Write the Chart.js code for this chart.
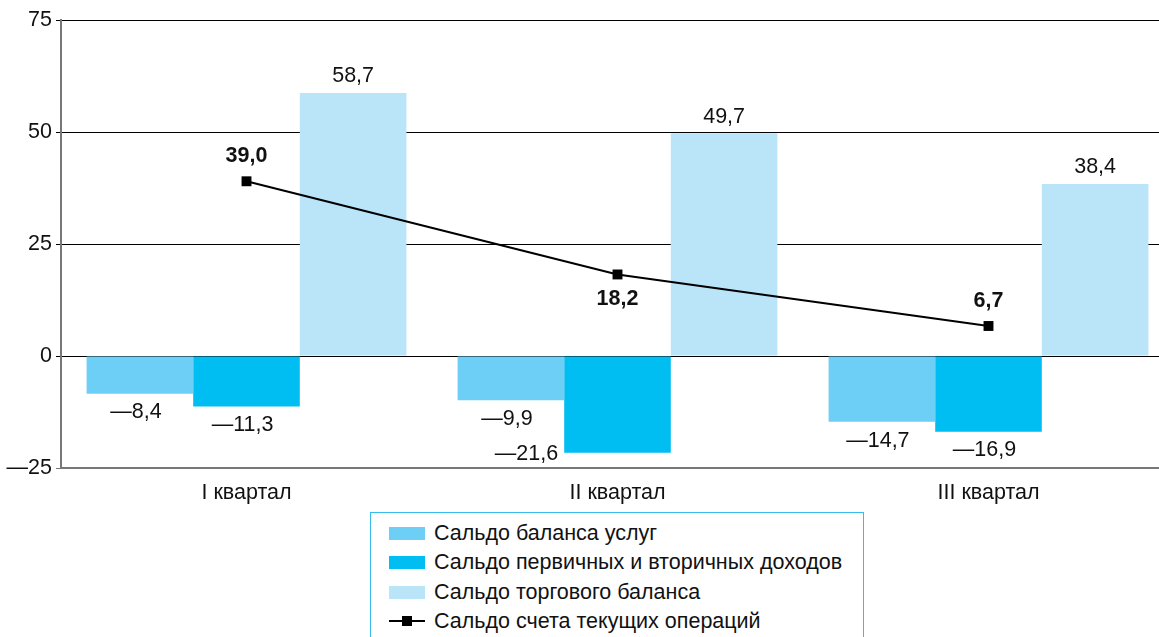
<!DOCTYPE html>
<html>
<head>
<meta charset="utf-8">
<script src="https://cdn.jsdelivr.net/npm/chart.js@4/dist/chart.umd.min.js"></script>
<style>
  html, body { margin: 0; padding: 0; background: #fff; overflow: hidden; }
  body { width: 1159px; height: 637px; position: relative; font-family: "Liberation Sans", Arial, sans-serif; }
  #wrap { position: absolute; left: 0; top: 0; width: 1181px; height: 510px; }
  #legend { position: absolute; left: 370px; top: 512px; width: 494px; height: 140px; border: 1px solid #35bdee; box-sizing: border-box; padding-top: 6px; }
  .item { height: 29.3px; display: flex; align-items: center; font-size: 21.5px; color: #111; }
  .sw { width: 36px; height: 13px; margin-left: 18px; margin-right: 9px; position: relative; flex: none; }
  .sw.line::before { content: ""; position: absolute; left: 0; right: 0; top: 5px; height: 2px; background: #000; }
  .sw.line::after { content: ""; position: absolute; left: 13px; top: 1px; width: 10px; height: 10px; background: #000; }
</style>
</head>
<body>
<div id="wrap"><canvas id="chart"></canvas></div>
<div id="legend"></div>
<script>
const quarters = ['I квартал', 'II квартал', 'III квартал'];
const services = [-8.4, -9.9, -14.7];
const incomes = [-11.3, -21.6, -16.9];
const trade = [58.7, 49.7, 38.4];
const currentAccount = [39.0, 18.2, 6.7];
const seriesNames = ['Сальдо баланса услуг', 'Сальдо первичных и вторичных доходов', 'Сальдо торгового баланса', 'Сальдо счета текущих операций'];
const seriesColors = ['#6dcff6', '#00bdf2', '#bae4f8', '#000000'];
const yTicks = [-25, 0, 25, 50, 75];

const FONT = '"Liberation Sans", Arial, sans-serif';
const FSIZE = 21.5;

function fmt(v) {
    let s = Math.abs(v).toFixed(1).replace('.', ',');
    return v < 0 ? '\u2014' + s : s;
}

// value labels for bars and the line
const valueLabels = {
    id: 'valueLabels',
    afterDatasetsDraw(chart, args, opts) {
        const ctx = chart.ctx;
        const area = chart.chartArea;
        ctx.save();
        chart.data.datasets.forEach((ds, i) => {
            const meta = chart.getDatasetMeta(i);
            meta.data.forEach((el, j) => {
                const v = ds.data[j];
                const txt = fmt(v);
                ctx.fillStyle = '#111';
                if (ds.type === 'line') {
                    ctx.font = 'bold ' + FSIZE + 'px ' + FONT;
                    ctx.textAlign = 'center';
                    if (opts.lineBelow.includes(j)) {
                        ctx.textBaseline = 'top';
                        ctx.fillText(txt, el.x, el.y + 14);
                    } else {
                        ctx.textBaseline = 'bottom';
                        ctx.fillText(txt, el.x, el.y - 14);
                    }
                    return;
                }
                ctx.font = FSIZE + 'px ' + FONT;
                if (v >= 0) {
                    ctx.textAlign = 'center';
                    ctx.textBaseline = 'bottom';
                    ctx.fillText(txt, el.x, el.y - 6);
                } else if (el.y + 30 > area.bottom) {
                    ctx.textAlign = 'right';
                    ctx.textBaseline = 'middle';
                    ctx.fillText(txt, el.x - el.width / 2 - 6, el.y + 1);
                } else {
                    ctx.textAlign = 'center';
                    ctx.textBaseline = 'top';
                    ctx.fillText(txt, el.x - 4, el.y + 8);
                }
            });
        });
        ctx.restore();
    }
};

const barData = [services, incomes, trade];
const datasets = barData.map((d, i) => ({
    type: 'bar',
    label: seriesNames[i],
    data: d,
    backgroundColor: seriesColors[i],
    categoryPercentage: 0.862,
    barPercentage: 1,
    order: 2
}));
datasets.push({
    type: 'line',
    label: seriesNames[3],
    data: currentAccount,
    borderColor: '#000',
    borderWidth: 2,
    pointStyle: 'rect',
    pointRadius: 7,
    pointBackgroundColor: '#000',
    pointBorderWidth: 0,
    tension: 0,
    order: 1
});

new Chart(document.getElementById('chart'), {
    type: 'bar',
    data: { labels: quarters, datasets: datasets },
    plugins: [valueLabels],
    options: {
        responsive: true,
        maintainAspectRatio: false,
        animation: false,
        layout: { padding: { top: 20, right: 0, left: 0, bottom: 0 } },
        plugins: {
            legend: { display: false },
            tooltip: { enabled: false },
            valueLabels: { lineBelow: [1] }
        },
        scales: {
            x: {
                grid: { display: false, drawTicks: false },
                border: { color: '#777', width: 2 },
                ticks: { color: '#111', font: { family: FONT, size: FSIZE }, padding: 12 },
                afterFit: s => { s.height = 42; }
            },
            y: {
                min: -25,
                max: 75,
                afterBuildTicks: s => { s.ticks = yTicks.map(v => ({ value: v })); },
                grid: {
                    color: c => c.tick && c.tick.value === -25 ? '#777' : '#000',
                    lineWidth: 1,
                    tickLength: 5
                },
                border: { color: '#777', width: 2 },
                ticks: {
                    color: '#111',
                    font: { family: FONT, size: FSIZE },
                    padding: 4,
                    callback: v => v < 0 ? '\u2014' + Math.abs(v) : String(v)
                },
                afterFit: s => { s.width = 61; }
            }
        }
    }
});

// legend in a box, one item per row
const legend = document.getElementById('legend');
seriesNames.forEach((name, i) => {
    const row = document.createElement('div');
    row.className = 'item';
    const sw = document.createElement('span');
    sw.className = 'sw' + (i === 3 ? ' line' : '');
    if (i < 3) sw.style.background = seriesColors[i];
    row.appendChild(sw);
    row.appendChild(document.createTextNode(name));
    legend.appendChild(row);
});
</script>
</body>
</html>
